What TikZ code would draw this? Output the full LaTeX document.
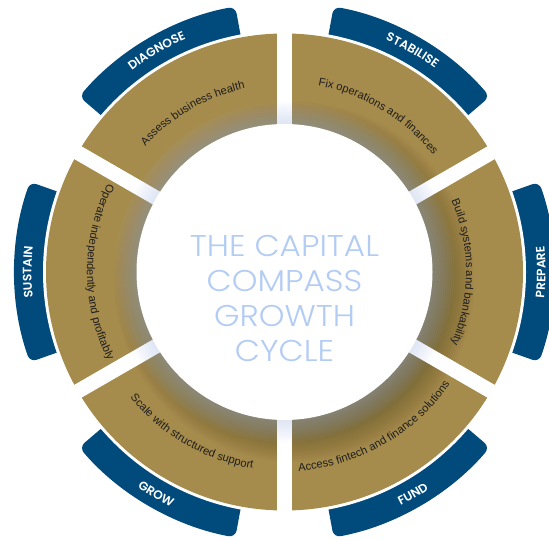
\documentclass[tikz,border=0pt]{standalone}
\usepackage{fontspec}
\usetikzlibrary{decorations.text,calc}
\setmainfont{Liberation Sans}
\newfontfamily\tabfont{Poppins SemiBold}
\newfontfamily\titlefont{Poppins Light}[FakeStretch=1.09]
\definecolor{gold}{HTML}{A58B4C}
\definecolor{tabblue}{HTML}{014A7C}
\definecolor{titleblue}{HTML}{B3CCF4}
\definecolor{glow}{HTML}{B8C8E8}
\definecolor{segtext}{HTML}{1E1E1E}
\newcommand{\segfont}{\fontsize{11.2}{13}\selectfont}
\newcommand{\tabfnt}{\tabfont\fontsize{12.2}{14}\selectfont}
\tikzset{
  tabband/.style={fill=tabblue, rounded corners=7pt},
  gapbar/.style={draw=white, line width=14.7pt},
  seglabel/.style={decorate, decoration={text along path, text align=center, text color=segtext, text={|\segfont|#1}}},
  tablabel/.style={decorate, decoration={text along path, text align=center, text color=white, text={|\tabfnt|#1}}}
}
\begin{document}
\begin{tikzpicture}[x=1pt,y=1pt]
\useasboundingbox (0,0) rectangle (549,540);
\coordinate (O) at (284.5,268);
% tabs
\foreach \a in {0,60,...,300}{
  \fill[tabband] ($(O)+(\a-19.5:222)$) -- ($(O)+(\a-19.5:270)$)
    arc[start angle=\a-19.5, end angle=\a+19.5, radius=270]
    -- ($(O)+(\a+19.5:222)$) -- cycle;
}
% ring
\fill[white] (O) circle (241.5);
\fill[gold] (O) circle (238.5);
\begin{scope}
  \clip (O) circle (238.5);
  \foreach \r in {140,142,...,180} \fill[black, opacity=0.014] ($(O)+(10,-10)$) circle (\r);
\end{scope}
% gaps
\foreach \a in {30,90,...,330} \draw[gapbar] (O) -- ($(O)+(\a:243)$);
% glow around the centre disc
\foreach \r in {150,152,...,170} \fill[glow, opacity=0.045] (O) circle (\r);
\fill[white] (O) circle (148);
% title
\node[align=center, font=\titlefont\fontsize{30}{35}\selectfont, text=titleblue] (title) at (284.5,242) {THE CAPITAL\\COMPASS\\GROWTH\\CYCLE};
% tab labels
\path[tablabel=DIAGNOSE] ($(O)+(160:253)$) arc[start angle=160, end angle=80, radius=253];
\path[tablabel=STABILISE] ($(O)+(100:253)$) arc[start angle=100, end angle=20, radius=253];
\path[tablabel=PREPARE] ($(O)+(-40:261)$) arc[start angle=-40, end angle=40, radius=261];
\path[tablabel=FUND] ($(O)+(-100:261)$) arc[start angle=-100, end angle=-20, radius=261];
\path[tablabel=GROW] ($(O)+(-160:261)$) arc[start angle=-160, end angle=-80, radius=261];
\path[tablabel=SUSTAIN] ($(O)+(220:253)$) arc[start angle=220, end angle=140, radius=253];
% segment labels
\path[seglabel=Assess business health] ($(O)+(165:187.5)$) arc[start angle=165, end angle=75, radius=187.5];
\path[seglabel=Fix operations and finances] ($(O)+(104:189)$) arc[start angle=104, end angle=14, radius=189];
\path[seglabel=Build systems and bankability] ($(O)+(45:181.5)$) arc[start angle=45, end angle=-45, radius=181.5];
\path[seglabel=Access fintech and finance solutions] ($(O)+(-105:199.5)$) arc[start angle=-105, end angle=-15, radius=199.5];
\path[seglabel=Scale with structured support] ($(O)+(-165:199)$) arc[start angle=-165, end angle=-75, radius=199];
\path[seglabel=Operate independently and profitably] ($(O)+(135:197.5)$) arc[start angle=135, end angle=225, radius=197.5];
\end{tikzpicture}
\end{document}
